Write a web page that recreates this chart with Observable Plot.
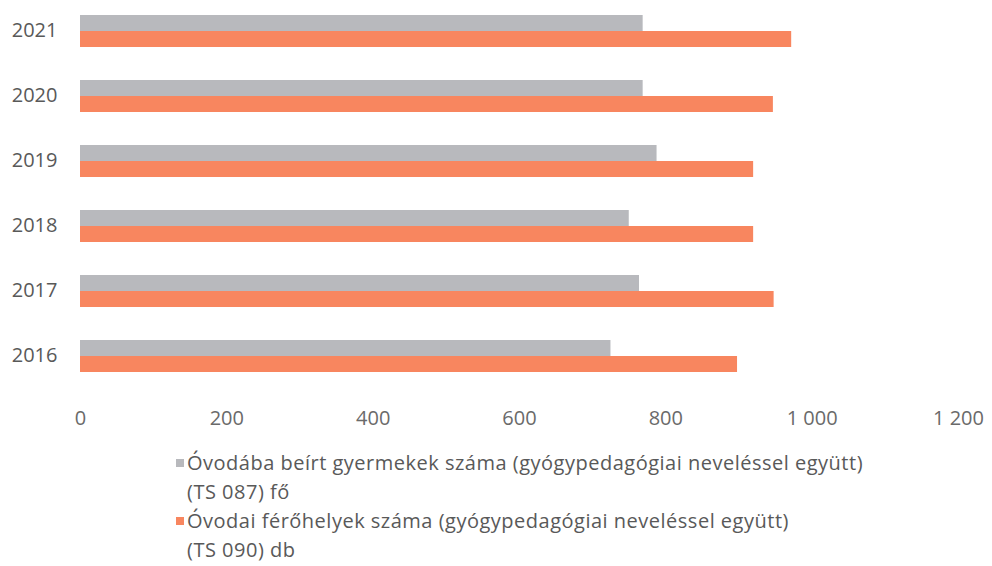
<!DOCTYPE html>
<html>
<head>
<meta charset="utf-8">
<script src="https://cdn.jsdelivr.net/npm/d3@7"></script>
<script src="https://cdn.jsdelivr.net/npm/@observablehq/plot@0.6"></script>
<style>
  html, body { margin: 0; padding: 0; background: #fff; }
  #chart { width: 992px; }
  .legend { font-family: "Open Sans", sans-serif; font-size: 20px; letter-spacing: 0.5px; color: #595959; padding-left: 176px; margin-top: 8px; }
  .legend .item { display: flex; align-items: flex-start; line-height: 29px; }
  .legend .sw { width: 8px; height: 8px; margin-top: 11px; margin-right: 3px; flex: none; }
</style>
</head>
<body>
<div id="chart"></div>
<script>
const years = [2021, 2020, 2019, 2018, 2017, 2016];
const enrolled = [769, 769, 788, 750, 764, 725];
const places = [972, 947, 920, 920, 948, 898];
const seriesKeys = ["enrolled", "places"];
const seriesLines = [
  ["Óvodába beírt gyermekek száma (gyógypedagógiai neveléssel együtt)", "(TS 087) fő"],
  ["Óvodai férőhelyek száma (gyógypedagógiai neveléssel együtt)", "(TS 090) db"]
];
const seriesColors = ["#b8b9bd", "#f8865f"];
const xTicks = [0, 200, 400, 600, 800, 1000, 1200];
const xTickLabels = ["0", "200", "400", "600", "800", "1 000", "1 200"];

const rows = years.flatMap((y, i) => [
  {year: y, series: seriesKeys[0], value: enrolled[i]},
  {year: y, series: seriesKeys[1], value: places[i]}
]);

const plot = Plot.plot({
  width: 992,
  height: 440,
  marginLeft: 80,
  marginRight: 34,
  marginTop: 0,
  marginBottom: 55,
  style: {fontFamily: "Open Sans, sans-serif", fontSize: "19px", color: "#595959", background: "#fff"},
  x: {domain: [0, 1200], label: null},
  y: {domain: seriesKeys, axis: null, padding: 0},
  fy: {domain: years, paddingInner: 0.5, paddingOuter: 0.184, label: null},
  color: {domain: seriesKeys, range: seriesColors},
  marks: [
    Plot.barX(rows, {x: "value", y: "series", fy: "year", fill: "series"}),
    Plot.axisX({ticks: xTicks, tickFormat: d => xTickLabels[xTicks.indexOf(d)], tickSize: 0, tickPadding: 38, fontSize: 20, fill: "#6a6a6a", label: null}),
    Plot.axisFy({anchor: "left", tickSize: 0, tickPadding: 23, fontSize: 20, fill: "#595959", label: null, tickFormat: d => String(d)})
  ]
});
document.getElementById("chart").appendChild(plot);

const legend = document.createElement("div");
legend.className = "legend";
seriesKeys.forEach((k, i) => {
  const item = document.createElement("div");
  item.className = "item";
  const sw = document.createElement("span");
  sw.className = "sw";
  sw.style.background = seriesColors[i];
  const txt = document.createElement("span");
  txt.innerHTML = seriesLines[i].join("<br>");
  item.appendChild(sw);
  item.appendChild(txt);
  legend.appendChild(item);
});
document.getElementById("chart").appendChild(legend);
</script>
</body>
</html>
